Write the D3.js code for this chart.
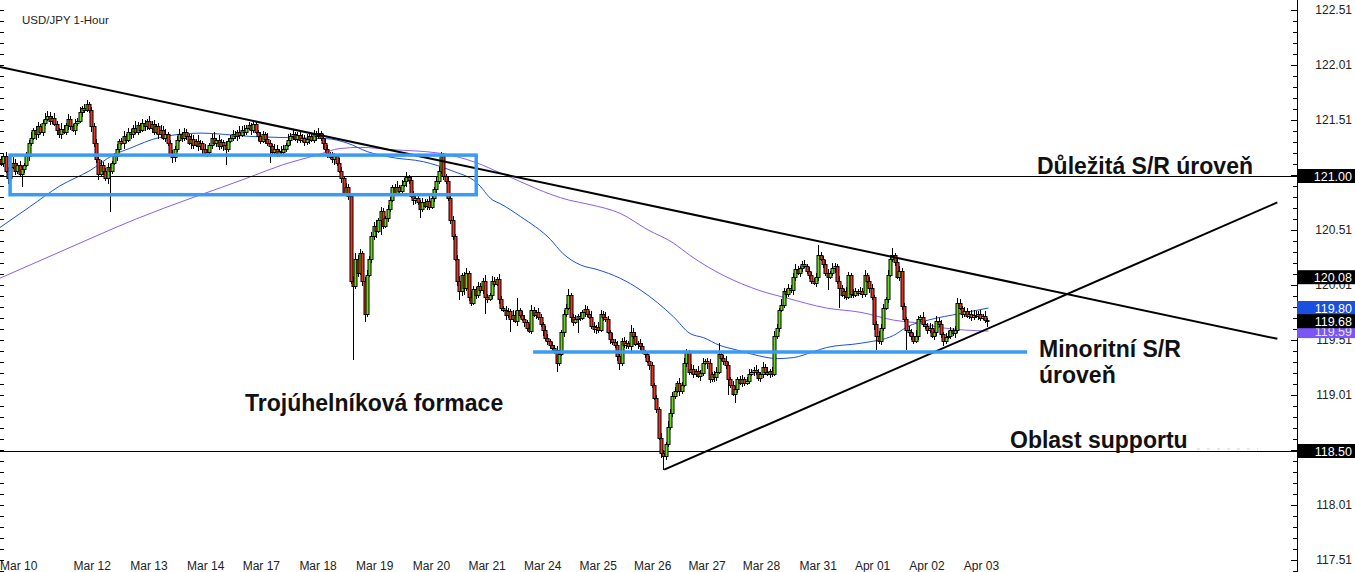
<!DOCTYPE html>
<html><head><meta charset="utf-8">
<script src="https://cdn.jsdelivr.net/npm/d3@7"></script>
<style>body{margin:0;background:#fff}svg{display:block}text{font-family:"Liberation Sans",Arial,sans-serif}</style>
</head><body><svg id="c" width="1355" height="572"></svg>
<script>
// ---------- DATA ----------
const title = "USD/JPY 1-Hour";
const firstOpen = 121.15;
const closes = [
121.12,121.18,121.05,120.98,121.08,121.12,121.05,121.10,121.02,121.06,
121.10,121.18,121.30,121.35,121.42,121.38,121.45,121.40,121.48,121.52,
121.55,121.50,121.53,121.47,121.42,121.38,121.43,121.40,121.46,121.52,
121.45,121.42,121.48,121.50,121.58,121.62,121.60,121.65,121.60,121.45,
121.30,121.15,121.02,121.10,121.05,120.98,121.08,121.05,121.12,121.18,
121.25,121.32,121.30,121.36,121.33,121.40,121.38,121.44,121.40,121.46,
121.42,121.48,121.45,121.50,121.44,121.47,121.40,121.45,121.38,121.42,
121.35,121.38,121.30,121.20,121.17,121.25,121.33,121.38,121.35,121.40,
121.36,121.30,121.34,121.28,121.32,121.27,121.30,121.25,121.20,121.22,
121.28,121.35,121.30,121.33,121.27,121.31,121.28,121.25,121.32,121.35,
121.38,121.36,121.40,121.37,121.42,121.40,121.44,121.46,121.42,121.47,
121.40,121.36,121.32,121.38,121.34,121.30,121.27,121.22,121.25,121.20,
121.23,121.22,121.25,121.28,121.33,121.36,121.38,121.34,121.37,121.33,
121.35,121.31,121.34,121.36,121.33,121.38,121.36,121.39,121.35,121.30,
121.25,121.20,121.17,121.15,121.18,121.12,121.05,120.98,120.85,120.90,
120.82,120.05,120.00,120.25,120.12,120.30,120.05,119.75,120.10,120.25,
120.45,120.55,120.50,120.60,120.68,120.55,120.62,120.70,120.78,120.90,
120.85,120.90,120.86,120.92,120.95,120.99,120.96,120.82,120.78,120.80,
120.76,120.70,120.76,120.73,120.77,120.72,120.80,120.88,120.95,121.05,
121.18,121.00,120.95,120.80,120.60,120.45,120.25,120.05,119.95,120.10,
119.98,120.12,119.90,119.85,119.97,119.92,120.00,119.96,120.05,119.90,
119.88,119.92,120.05,120.02,120.06,119.88,119.80,119.78,119.74,119.77,
119.70,119.74,119.68,119.78,119.74,119.70,119.67,119.62,119.59,119.78,
119.74,119.76,119.72,119.65,119.60,119.53,119.50,119.46,119.44,119.42,
119.30,119.38,119.58,119.75,119.80,119.92,119.72,119.67,119.70,119.73,
119.71,119.76,119.79,119.75,119.72,119.64,119.61,119.63,119.60,119.75,
119.72,119.70,119.58,119.52,119.49,119.46,119.36,119.30,119.50,119.46,
119.48,119.45,119.58,119.55,119.47,119.48,119.45,119.40,119.38,119.32,
119.28,119.10,118.98,118.88,118.62,118.48,118.45,118.56,118.72,118.85,
119.00,119.05,119.12,119.05,119.10,119.30,119.40,119.22,119.25,119.20,
119.23,119.18,119.21,119.30,119.32,119.30,119.15,119.20,119.17,119.22,
119.38,119.35,119.32,119.28,119.15,119.10,119.02,119.06,119.15,119.12,
119.15,119.12,119.14,119.20,119.22,119.24,119.22,119.16,119.20,119.26,
119.22,119.20,119.23,119.20,119.55,119.62,119.78,119.83,119.95,119.93,
119.98,119.96,120.08,120.15,120.12,120.16,120.20,120.18,120.14,120.10,
120.05,120.03,120.08,120.28,120.25,120.20,120.12,120.08,120.12,120.16,
120.18,120.05,119.98,119.92,119.95,119.90,120.10,119.93,119.92,119.95,
119.94,119.95,119.93,120.10,120.05,119.98,119.90,119.65,119.55,119.50,
119.62,119.80,119.88,120.10,120.25,120.28,120.22,120.08,120.14,119.82,
119.70,119.60,119.58,119.55,119.50,119.55,119.70,119.72,119.65,119.64,
119.60,119.62,119.55,119.58,119.68,119.65,119.56,119.50,119.54,119.55,
119.60,119.57,119.60,119.85,119.80,119.75,119.77,119.73,119.75,119.72,
119.74,119.73,119.75,119.71,119.73,119.69,119.68];
// upper / lower wick length above/below body, in pips
const hiW = [
3,2,4,3,2,5,3,2,4,3, 2,4,3,5,2,3,4,2,3,5, 4,3,2,4,3,2,5,3,2,4, 3,2,4,3,5,2,3,4,2,3,
3,4,2,5,3,2,4,3,2,3, 4,2,3,5,2,4,3,2,6,3, 2,4,3,2,5,3,4,2,3,4, 3,5,2,3,4,2,3,5,2,4,
3,2,4,3,2,5,3,2,4,3, 2,3,5,2,4,3,2,4,3,2, 4,3,2,5,3,4,2,3,2,4, 3,2,4,3,2,5,3,2,4,3,
2,4,3,2,5,3,4,2,3,5, 3,2,4,3,2,4,3,5,2,3, 4,3,2,5,3,2,4,3,2,4, 3,2,4,5,3,4,2,3,5,2,
4,3,5,2,4,3,2,4,3,2, 3,5,2,4,3,5,2,3,4,2, 3,2,4,3,2,5,3,2,4,3, 4,3,2,5,3,4,2,3,4,2,
3,4,2,5,3,2,4,3,2,5, 3,2,4,3,2,5,3,2,4,3, 2,4,3,11,2,3,4,2,3,5, 3,2,4,3,2,4,3,2,3,2,
3,4,2,3,4,5,2,3,4,2, 3,2,4,3,2,5,3,2,4,3, 2,4,3,2,5,3,4,2,3,4, 3,2,7,4,3,2,4,3,2,3,
4,3,2,3,2,4,3,2,5,3, 4,3,2,4,3,5,3,2,4,3, 2,4,3,5,2,3,4,2,3,4, 10,3,2,4,3,2,4,3,2,3,
4,2,3,5,3,2,4,3,2,5, 3,4,2,3,4,3,2,5,3,2, 4,3,4,5,3,2,3,4,2,3, 3,2,4,9,3,2,4,3,2,5,
3,2,4,3,2,4,3,2,4,3, 2,4,3,5,2,3,4,2,3,4, 3,4,2,5,3,7,2,3,4,2, 3,2,4,3,2,5,3,2,4,3,
2,4,3,2,5,3,4,2,3,4, 3,2,4,4,3,2,4,3,2,3, 4,3,2,3,2,4,2];
const loW = [
3,4,2,5,3,2,4,3,2,12, 3,2,4,3,2,5,3,2,4,3, 2,4,3,2,5,3,4,2,3,4, 3,2,5,3,2,4,3,2,3,5,
4,3,6,2,4,3,5,38,3,2, 4,3,2,5,3,2,4,3,2,3, 3,2,4,3,2,5,3,2,4,3, 2,4,3,2,5,4,3,2,4,3,
3,2,5,3,2,4,3,6,2,3, 4,3,2,4,3,2,5,15,3,2, 3,2,4,3,2,4,3,2,5,3, 2,4,3,2,5,3,15,2,4,3,
3,2,4,3,2,5,3,2,4,3, 2,4,3,5,2,3,4,2,3,5, 3,4,2,3,5,3,2,4,3,2, 4,3,67,3,4,2,5,8,3,2,
4,3,6,2,14,3,2,4,3,2, 3,2,4,3,2,5,3,2,4,3, 2,8,3,2,4,3,2,4,3,2, 3,4,2,3,4,3,2,5,8,4,
6,3,4,3,2,4,3,2,3,15, 3,2,4,3,2,4,3,2,5,3, 12,3,2,4,3,2,4,3,2,3, 2,4,3,2,5,3,4,3,2,4,
8,3,2,4,3,2,5,3,2,13, 3,2,4,3,2,3,4,5,3,2, 4,3,2,5,3,2,4,6,3,2, 3,2,4,3,2,4,3,2,3,2,
4,3,2,3,2,4,12,3,2,3, 4,3,2,5,3,2,4,3,2,4, 3,2,4,3,2,5,3,2,4,3, 2,3,4,3,14,3,2,8,3,2,
4,3,2,3,2,4,3,2,3,4, 3,2,4,3,2,3,4,2,3,4, 3,2,4,3,2,4,3,2,3,4, 3,2,4,3,2,4,3,12,2,3,
4,3,18,2,4,3,2,4,3,2, 3,2,4,3,2,4,3,5,13,3, 4,3,2,3,2,3,4,2,3,4, 3,18,3,4,3,2,4,3,2,3,
4,3,2,4,3,2,3,5,3,2, 3,2,4,3,2,4,3,2,3,4, 3,2,4,3,2,3,5];

// moving averages (sampled at candle index)
const maBlueIdx = [-1,12,25,38,48,55,68,86,107,121,140,149,158,168,182,194,205,212,215,224,237,242,250,257,267,276,283,290,297,303,310,317,324,335,342,350,356,371,385,391,400,414,426];
const maBlueVal = [120.53,120.72,120.91,121.05,121.19,121.25,121.35,121.39,121.36,121.35,121.34,121.30,121.22,121.17,121.13,121.05,120.94,120.78,120.75,120.63,120.42,120.30,120.19,120.15,120.07,119.96,119.85,119.72,119.57,119.53,119.46,119.42,119.38,119.34,119.35,119.40,119.44,119.48,119.55,119.63,119.69,119.75,119.80];
const maPurpleIdx = [-1,25,58,107,121,136,146,155,168,188,205,215,245,254,267,279,290,297,327,339,356,371,385,397,406,426];
const maPurpleVal = [120.07,120.31,120.61,120.99,121.10,121.19,121.25,121.26,121.24,121.21,121.12,121.03,120.78,120.74,120.66,120.51,120.39,120.28,119.96,119.89,119.80,119.76,119.69,119.66,119.62,119.59];

// x-axis day labels (candle index at label centre)
const dayLabels = ["Mar 10","Mar 12","Mar 13","Mar 14","Mar 17","Mar 18","Mar 19","Mar 20","Mar 21","Mar 24","Mar 25","Mar 26","Mar 27","Mar 28","Mar 31","Apr 01","Apr 02","Apr 03"];
const dayIdx = [-9,39,63.5,88,112,136.5,161,185.5,209.5,233.5,257.5,281,304.5,328,352.5,376,399.5,423];
// y-axis labelled ticks
const axisTicks = [117.51,118.01,118.51,119.01,119.51,120.01,120.51,121.01,121.51,122.01,122.51];
// highlighted price markers on the axis
const markerVals  = [121.00,120.08,119.80,119.59,119.68,118.50];
const markerFill  = ["#000","#000","#1a4fe0","#7c55f6","#000","#000"];
const markerText  = ["#fff","#fff","#fff","#e8e0ff","#fff","#fff"];

// drawn analysis objects
const levelVals = [121.00, 118.50];
const trendDownIdx = [-0.86, 550.8], trendDownVal = [121.99, 119.52];
const trendUpIdx = [286, 550.8],    trendUpVal = [118.33, 120.76];
const boxIdx = [3.5, 204.8], boxVals = [121.19, 120.83];
const minorIdx = [229.4, 442.7], minorVal = 119.40;
const notes = ["Důležitá S/R úroveň","Minoritní S/R","úroveň","Oblast supportu","Trojúhelníková formace"];

// ---------- CHART ----------
const W = 1355, H = 572, axisX = 1297;
const svg = d3.select("#c");
const x = d3.scaleLinear().domain([0, 426]).range([2, 988.4]);
const y = d3.scaleLinear().domain([118.5, 121]).range([451, 176]);

// moving averages
const line = d3.line().x(d => x(d[0])).y(d => y(d[1])).curve(d3.curveMonotoneX);
svg.append("path").attr("d", line(maPurpleIdx.map((d,i)=>[d, maPurpleVal[i]])))
  .attr("fill","none").attr("stroke","#8a5cf6").attr("stroke-width",1);
svg.append("path").attr("d", line(maBlueIdx.map((d,i)=>[d, maBlueVal[i]])))
  .attr("fill","none").attr("stroke","#1a4fe0").attr("stroke-width",1);

// horizontal levels
levelVals.forEach(v => {
  const yy = Math.round(y(v)) + 0.5;
  svg.append("line").attr("x1",0).attr("x2",axisX).attr("y1",yy).attr("y2",yy)
    .attr("stroke","#000").attr("stroke-width",1);
});

// candles
const candles = closes.map((c,i) => {
  const o = i ? closes[i-1] : firstOpen;
  return {i, o, c, h: Math.max(o,c) + hiW[i]/100, l: Math.min(o,c) - loW[i]/100};
});
const cg = svg.append("g");
candles.forEach(d => {
  const xr = Math.round(x(d.i));
  cg.append("line").attr("x1",xr-0.5).attr("x2",xr-0.5)
    .attr("y1",Math.round(y(d.h))).attr("y2",Math.round(y(d.l)))
    .attr("stroke","#000").attr("stroke-width",1);
  const top = Math.round(y(Math.max(d.o,d.c))), bot = Math.round(y(Math.min(d.o,d.c)));
  cg.append("rect").attr("x",xr-2).attr("y",top+0.5).attr("width",3).attr("height",Math.max(1,bot-top))
    .attr("fill", d.c >= d.o ? "#66dd11" : "#ee3322").attr("stroke","#000").attr("stroke-width",1);
});

// trend lines
svg.append("line").attr("x1",x(trendDownIdx[0])).attr("y1",y(trendDownVal[0]))
  .attr("x2",x(trendDownIdx[1])).attr("y2",y(trendDownVal[1])).attr("stroke","#000").attr("stroke-width",2);
svg.append("line").attr("x1",x(trendUpIdx[0])).attr("y1",y(trendUpVal[0]))
  .attr("x2",x(trendUpIdx[1])).attr("y2",y(trendUpVal[1])).attr("stroke","#000").attr("stroke-width",2);

// blue zone box and minor S/R line
svg.append("rect").attr("x",x(boxIdx[0])).attr("y",y(boxVals[0]))
  .attr("width",x(boxIdx[1])-x(boxIdx[0])).attr("height",y(boxVals[1])-y(boxVals[0]))
  .attr("fill","none").attr("stroke","#3a9bf5").attr("stroke-width",3.5);
svg.append("line").attr("x1",x(minorIdx[0])).attr("x2",x(minorIdx[1]))
  .attr("y1",y(minorVal)).attr("y2",y(minorVal)).attr("stroke","#3a9bf5").attr("stroke-width",3.5);

// faint marks near support label
svg.append("line").attr("x1",1197).attr("x2",1258).attr("y1",449).attr("y2",449)
  .attr("stroke","#d0d0d0").attr("stroke-width",1).attr("stroke-dasharray","3,7");

// title
svg.append("text").attr("x",22).attr("y",24).attr("font-size",11.5).attr("fill","#222").text(title);

// annotations
const nt = (t,xx,yy) => svg.append("text").attr("x",xx).attr("y",yy).attr("font-size",23)
  .attr("font-weight","bold").attr("fill","#111").text(t);
nt(notes[0], 1037, 174);
nt(notes[1], 1039, 357);
nt(notes[2], 1039, 383);
nt(notes[3], 1010, 448);
nt(notes[4], 245, 411);

// right axis
svg.append("rect").attr("x",axisX+1).attr("y",0).attr("width",W-axisX).attr("height",H).attr("fill","#fff");
svg.append("line").attr("x1",axisX+0.5).attr("x2",axisX+0.5).attr("y1",0).attr("y2",H).attr("stroke","#000");
const minor = d3.range(Math.round(117.41*100), Math.round(122.62*100)+1, 10).map(v => v/100);
minor.forEach(v => {
  const yy = Math.round(y(v)) + 0.5;
  const major = axisTicks.some(t => Math.abs(t - v) < 0.001);
  svg.append("line").attr("x1", axisX - (major ? 6 : 4)).attr("x2", axisX).attr("y1",yy).attr("y2",yy).attr("stroke","#000");
  svg.append("line").attr("x1", 0).attr("x2", 4).attr("y1",yy).attr("y2",yy).attr("stroke","#000");
});
axisTicks.forEach(v => {
  svg.append("text").attr("x",1352).attr("y",y(v)+4.5).attr("text-anchor","end")
    .attr("font-size",12).attr("fill","#222").text(v.toFixed(2));
});
markerVals.forEach((v,i) => {
  const yy = y(v);
  svg.append("rect").attr("x",axisX).attr("y",yy-7).attr("width",W-axisX).attr("height",14).attr("fill",markerFill[i]);
  svg.append("text").attr("x",1352).attr("y",yy+4.5).attr("text-anchor","end")
    .attr("font-size",12.5).attr("fill",markerText[i]).text(v.toFixed(2));
});

// x-axis labels
dayLabels.forEach((t,i) => {
  const xx = x(dayIdx[i]);
  const first = xx < 20;
  svg.append("text").attr("x", first ? 0 : xx).attr("y",570)
    .attr("text-anchor", first ? "start" : "middle").attr("font-size",12).attr("fill","#222").text(t);
});
</script></body></html>
